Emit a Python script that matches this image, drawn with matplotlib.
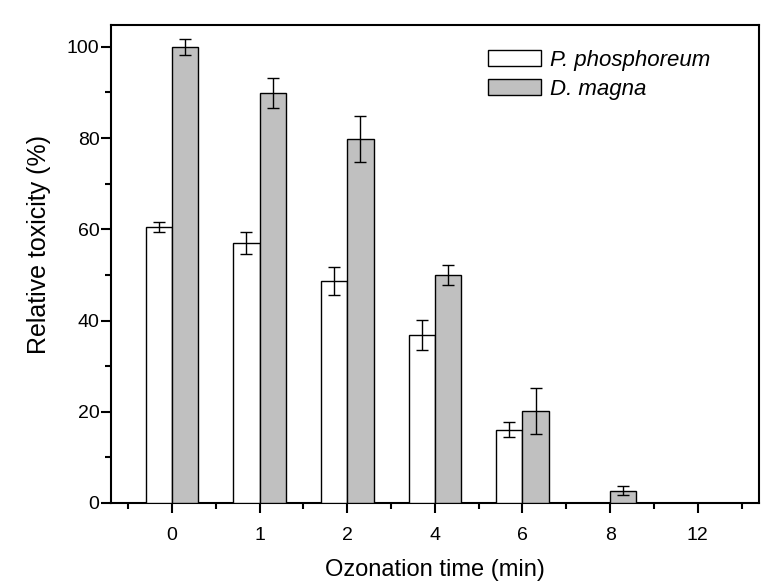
import numpy as np
import matplotlib
matplotlib.use("Agg")
import matplotlib.pyplot as plt
from matplotlib.ticker import MultipleLocator, FixedLocator

plt.rcParams["font.family"] = ["Liberation Sans", "DejaVu Sans"]

times = ["0", "1", "2", "4", "6", "8", "12"]
phosphoreum = [60.5, 57.0, 48.7, 36.8, 16.1, 0.0, 0.0]
phosphoreum_err = [1.0, 2.4, 3.0, 3.3, 1.6, 0.0, 0.0]
magna = [100.0, 89.9, 79.8, 50.0, 20.2, 2.7, 0.0]
magna_err = [1.8, 3.3, 5.0, 2.1, 5.0, 1.0, 0.0]

x = np.arange(len(times))
w = 0.3

fig = plt.figure(figsize=(7.67, 5.84), dpi=100)
ax = fig.add_axes([0.1443, 0.1387, 0.8453, 0.8185])

err_kw = dict(ecolor="black", elinewidth=1.0, capsize=4, capthick=1.0)
ax.bar(x - w / 2, phosphoreum, w, color="white", edgecolor="black",
       linewidth=1.0, label="P. phosphoreum", zorder=3)
ax.bar(x + w / 2, magna, w, color="#c0c0c0", edgecolor="black",
       linewidth=1.0, label="D. magna", zorder=3)
for i in range(len(x)):
    if phosphoreum_err[i] > 0:
        ax.errorbar(x[i] - w / 2, phosphoreum[i], yerr=phosphoreum_err[i],
                    fmt="none", zorder=4, **err_kw)
    if magna_err[i] > 0:
        ax.errorbar(x[i] + w / 2, magna[i], yerr=magna_err[i],
                    fmt="none", zorder=4, **err_kw)

ax.set_xlim(-0.7, 6.7)
ax.set_ylim(0, 104.8)
ax.set_xticks(x)
ax.set_xticklabels(times)
ax.xaxis.set_minor_locator(FixedLocator(np.arange(-0.5, 7, 1)))
ax.yaxis.set_major_locator(MultipleLocator(20))
ax.yaxis.set_minor_locator(MultipleLocator(10))

for s in ax.spines.values():
    s.set_linewidth(1.5)
ax.tick_params(which="major", direction="out", length=7, width=1.5,
               labelsize=14)
ax.tick_params(which="minor", direction="out", length=4, width=1.5)
ax.tick_params(axis="y", pad=1)
ax.tick_params(axis="x", pad=10)

ax.set_xlabel("Ozonation time (min)", fontsize=17, labelpad=11)
ax.set_ylabel("Relative toxicity (%)", fontsize=18)
ax.yaxis.set_label_coords(-0.092, 0.54)

leg = ax.legend(loc="upper left", bbox_to_anchor=(0.582, 0.948),
                frameon=False, borderpad=0, borderaxespad=0,
                handlelength=2.4, handleheight=0.75, labelspacing=0.35,
                handletextpad=0.4, prop={"style": "italic", "size": 16})

fig.savefig("out.png", dpi=100)
